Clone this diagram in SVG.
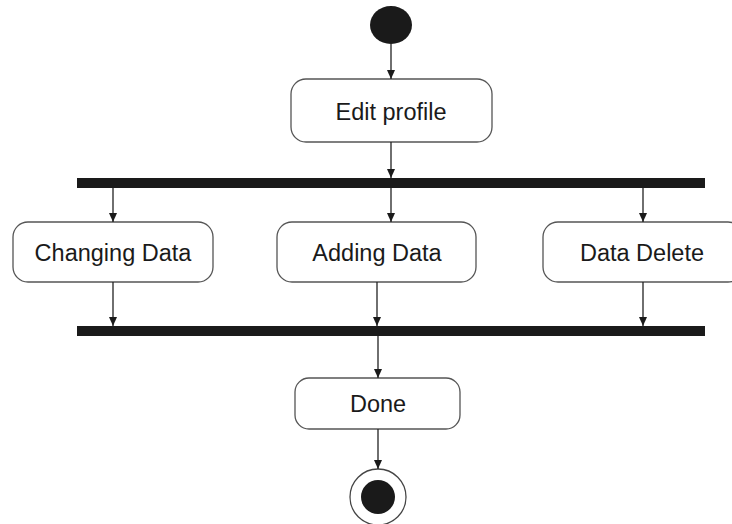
<svg xmlns="http://www.w3.org/2000/svg" width="732" height="524" viewBox="0 0 732 524">
<style>
.act{fill:#fff;stroke:#555;stroke-width:1.3}
.lbl{font-family:"Liberation Sans",Arial,sans-serif;font-size:23.5px;fill:#1a1a1a;text-anchor:middle}
.bar{fill:#1a1a1a}
.edge{stroke:#222;stroke-width:1.3;fill:none;marker-end:url(#ah)}
</style>
<defs>
<marker id="ah" markerWidth="10" markerHeight="10" refX="9" refY="5" orient="auto" markerUnits="userSpaceOnUse">
<path d="M0,1 L9,5 L0,9 Z" fill="#1a1a1a"/>
</marker>
</defs>
<rect width="732" height="524" fill="#fff"/>
<g id="start"><ellipse cx="391" cy="25" rx="21" ry="19" fill="#1a1a1a"/></g>
<g id="edit"><rect class="act" x="291" y="79" width="201" height="63" rx="15"/><text class="lbl" x="391" y="120">Edit profile</text></g>
<g id="fork"><rect class="bar" x="77" y="178" width="628" height="10"/></g>
<g id="changing"><rect class="act" x="13" y="222" width="200" height="60" rx="15"/><text class="lbl" x="113" y="261">Changing Data</text></g>
<g id="adding"><rect class="act" x="277" y="222" width="199" height="60" rx="15"/><text class="lbl" x="377" y="261">Adding Data</text></g>
<g id="delete"><rect class="act" x="543" y="222" width="200" height="60" rx="15"/><text class="lbl" x="642" y="261">Data Delete</text></g>
<g id="join"><rect class="bar" x="77" y="326" width="628" height="10"/></g>
<g id="done"><rect class="act" x="295" y="378" width="165" height="51" rx="14"/><text class="lbl" x="378" y="412">Done</text></g>
<g id="end"><circle cx="378" cy="497" r="28" fill="#fff" stroke="#444" stroke-width="1.3"/><circle cx="378" cy="497" r="17" fill="#1a1a1a"/></g>
<g id="connectors">
<line class="edge" x1="391" y1="44" x2="391" y2="79"/>
<line class="edge" x1="391" y1="142" x2="391" y2="178"/>
<line class="edge" x1="113" y1="188" x2="113" y2="222"/>
<line class="edge" x1="391" y1="188" x2="391" y2="222"/>
<line class="edge" x1="643" y1="188" x2="643" y2="222"/>
<line class="edge" x1="113" y1="282" x2="113" y2="326"/>
<line class="edge" x1="377" y1="282" x2="377" y2="326"/>
<line class="edge" x1="643" y1="282" x2="643" y2="326"/>
<line class="edge" x1="378" y1="336" x2="378" y2="378"/>
<line class="edge" x1="378" y1="429" x2="378" y2="469"/>
</g>
</svg>
